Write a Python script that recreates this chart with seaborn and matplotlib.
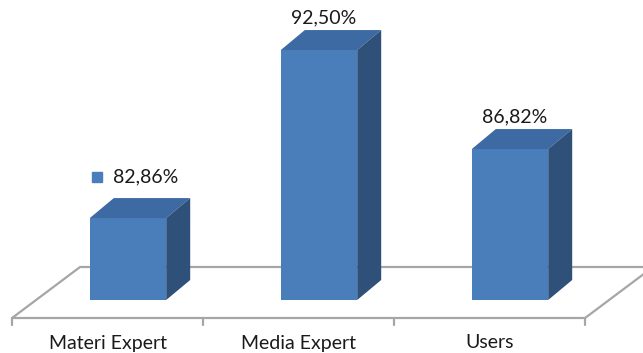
import matplotlib
matplotlib.use("Agg")
import matplotlib.pyplot as plt
import seaborn as sns
import pandas as pd
from matplotlib.patches import Polygon

categories = ["Materi Expert", "Media Expert", "Users"]
values = [82.86, 92.50, 86.82]
value_labels = ["82,86%", "92,50%", "86,82%"]

sns.set_theme(style="white")
plt.rcParams['font.family'] = ['Lato', 'DejaVu Sans']

FRONT = "#4A7EBB"
TOP = "#3D6AA2"
SIDE = "#2F5078"
FLOOR = "#A6A6A6"

W, H = 643, 353
fig = plt.figure(figsize=(W / 100, H / 100), dpi=100)
fig.patch.set_facecolor("white")

px_per_x = 191.0
x0_px = 128.0
ymin, ymax = 78.16, 95.3
px_per_y = 17.43
bottom_px = 53.0
ax = fig.add_axes([(x0_px - 0.5 * px_per_x) / W, bottom_px / H,
                   3 * px_per_x / W, (ymax - ymin) * px_per_y / H])

df = pd.DataFrame({"cat": categories, "val": values})
sns.barplot(data=df, x="cat", y="val", color=FRONT, width=0.4,
            saturation=1, ax=ax, zorder=2)
ax.set_xlim(-0.5, 2.5)
ax.set_ylim(ymin, ymax)
ax.axis("off")

# 3D depth of bars (data units)
bdx = 24 / px_per_x
bdy = 20 / px_per_y
for p in ax.patches:
    x, w, top = p.get_x(), p.get_width(), p.get_height()
    p.set_edgecolor("none")
    top_face = Polygon([(x, top), (x + bdx, top + bdy), (x + w + bdx, top + bdy), (x + w, top)],
                       closed=True, facecolor=TOP, edgecolor="none", zorder=3)
    side_face = Polygon([(x + w, ymin), (x + w + bdx, ymin + bdy), (x + w + bdx, top + bdy), (x + w, top)],
                        closed=True, facecolor=SIDE, edgecolor="none", zorder=3)
    ax.add_patch(top_face)
    ax.add_patch(side_face)

# floor (category axis plane)
n = len(categories)
shift = 0.107
fy = ymin - 18 / px_per_y
fdx = 68 / px_per_x
fdy = 51 / px_per_y
fl, fr = -0.5 - shift, n - 0.5 - shift
floor_pts = [(fl, fy), (fl + fdx, fy + fdy), (fr + fdx, fy + fdy), (fr, fy), (fl, fy)]
ax.plot([p[0] for p in floor_pts], [p[1] for p in floor_pts], color=FLOOR,
        lw=1.6, clip_on=False, zorder=1, solid_joinstyle="miter")
for k in range(n + 1):
    ax.plot([fl + k, fl + k], [fy, fy - 7 / px_per_y], color=FLOOR, lw=1.6,
            clip_on=False, zorder=1)

label_y = ymin - 43 / px_per_y
for i, c in enumerate(categories):
    ax.text(i - shift, label_y, c, ha="center", va="center", fontsize=14,
            color="#1a1a1a", clip_on=False)

# value labels
for i, (v, lab) in enumerate(zip(values, value_labels)):
    if i == 0:
        ax.annotate(lab, (i, v), xytext=(-11, 29.5), textcoords="offset points",
                    ha="left", va="center", fontsize=14, color="#1a1a1a")
        ax.annotate("", (i, v), xytext=(-22, 29.5), textcoords="offset points")
        ax.plot([i], [v], marker="s", ms=7, color=FRONT, linestyle="none",
                transform=ax.transData + matplotlib.transforms.ScaledTranslation(-22 / 72, 29.5 / 72, fig.dpi_scale_trans),
                clip_on=False, zorder=4)
    else:
        ax.annotate(lab, (i, v), xytext=(3.6, 23), textcoords="offset points",
                    ha="center", va="center", fontsize=14, color="#1a1a1a")

fig.savefig("out.png", dpi=100, facecolor="white")
